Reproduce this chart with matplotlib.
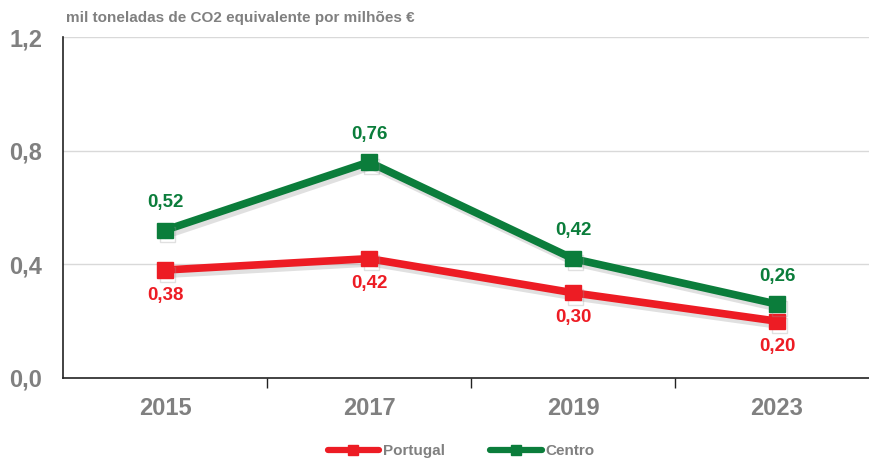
import matplotlib

matplotlib.use('Agg')
import matplotlib.pyplot as plt  # noqa: E402
import matplotlib.patheffects as pe  # noqa: E402
from matplotlib.lines import Line2D  # noqa: E402

# --- Data ---
years = ['2015', '2017', '2019', '2023']
portugal = [0.38, 0.42, 0.30, 0.20]
centro = [0.52, 0.76, 0.42, 0.26]
y_ticks = [0.0, 0.4, 0.8, 1.2]
y_tick_labels = ['0,0', '0,4', '0,8', '1,2']

RED = '#ED1C24'
GREEN = '#0B7D3B'
GRAY = '#808080'

plt.rcParams['font.family'] = ['Liberation Sans', 'DejaVu Sans']

fig = plt.figure(figsize=(8.69, 4.59), dpi=100)
ax = fig.add_axes([63 / 869, 81 / 459, 806 / 869, 341 / 459])

x = list(range(len(years)))
shadow = [pe.SimpleLineShadow(offset=(2, -3), shadow_color='#999999', alpha=0.3), pe.Normal()]

ax.plot(x, portugal, color=RED, lw=5.5, marker='s', ms=11, solid_joinstyle='miter',
        path_effects=shadow, zorder=3)
ax.plot(x, centro, color=GREEN, lw=5.5, marker='s', ms=11, solid_joinstyle='miter',
        path_effects=shadow, zorder=4)

# Value labels: Centro above its points, Portugal below
for xi, v in zip(x, centro):
    ax.annotate(f'{v:.2f}'.replace('.', ','), (xi, v), xytext=(0, 14), textcoords='offset points',
                ha='center', va='bottom', color=GREEN, fontsize=13.5, fontweight='bold')
for xi, v in zip(x, portugal):
    ax.annotate(f'{v:.2f}'.replace('.', ','), (xi, v), xytext=(0, -12), textcoords='offset points',
                ha='center', va='top', color=RED, fontsize=13.5, fontweight='bold')

ax.set_xlim(-0.5, -0.5 + 806 / 204)
ax.set_ylim(0, 1.2)

ax.set_yticks(y_ticks)
ax.set_yticklabels(y_tick_labels)
ax.tick_params(axis='y', length=0, pad=15, labelsize=17, labelcolor=GRAY)
for lab in ax.get_yticklabels():
    lab.set_fontweight('bold')

# Category labels centred, ticks on the boundaries
ax.set_xticks([i + 0.5 for i in range(len(years) - 1)])
ax.set_xticklabels([])
ax.set_xticks(x, minor=True)
ax.set_xticklabels(years, minor=True)
ax.tick_params(axis='x', which='major', length=7, color='#222222', width=1)
ax.tick_params(axis='x', which='minor', length=0, pad=14, labelsize=17, labelcolor=GRAY)
for lab in ax.get_xticklabels(minor=True):
    lab.set_fontweight('bold')

for yv in y_ticks[1:]:
    ax.axhline(yv, color='#D9D9D9', lw=1, zorder=1)

for side in ('top', 'right'):
    ax.spines[side].set_visible(False)
for side in ('left', 'bottom'):
    ax.spines[side].set_color('#222222')
    ax.spines[side].set_linewidth(1.2)

fig.text(66 / 869, 1 - 18 / 459, 'mil toneladas de CO2 equivalente por milhões €',
         ha='left', va='center', fontsize=11, fontweight='bold', color=GRAY)

handles = [
    Line2D([], [], color=RED, lw=4.5, marker='s', ms=7, solid_capstyle='round'),
    Line2D([], [], color=GREEN, lw=4.5, marker='s', ms=7, solid_capstyle='round'),
]
leg = fig.legend(handles, ['Portugal', 'Centro'], loc='center', bbox_to_anchor=(461 / 869, 1 - 451 / 459),
                 ncol=2, frameon=False, handlelength=3.4, handletextpad=0.2, columnspacing=3.0,
                 prop={'size': 11, 'weight': 'bold'})
for t in leg.get_texts():
    t.set_color(GRAY)

fig.savefig('out.png', dpi=100)
